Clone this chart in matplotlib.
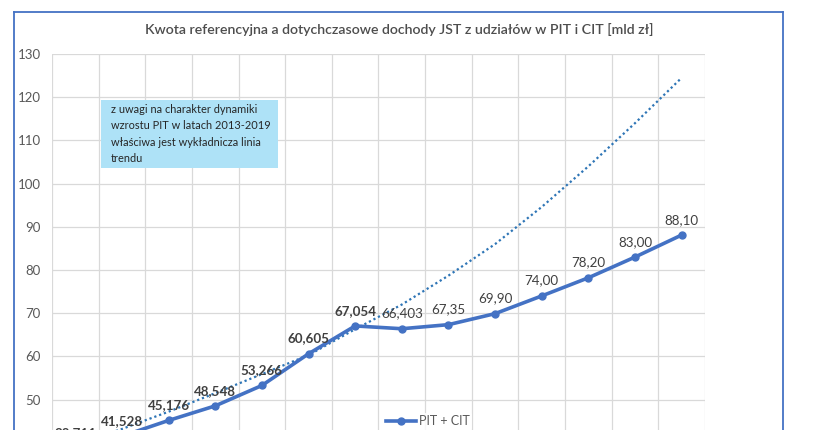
import numpy as np
import matplotlib
matplotlib.use("Agg")
import matplotlib.pyplot as plt
from matplotlib.lines import Line2D
from matplotlib.patches import Rectangle

plt.rcParams['font.family'] = ['Lato', 'DejaVu Sans']

# data
years = list(range(2013, 2027))
pit_cit = [38.711, 41.528, 45.176, 48.548, 53.266, 60.605, 67.054,
           66.403, 67.35, 69.90, 74.00, 78.20, 83.00, 88.10]
labels = ['38,711', '41,528', '45,176', '48,548', '53,266', '60,605', '67,054',
          '66,403', '67,35', '69,90', '74,00', '78,20', '83,00', '88,10']
trend = [39.6, 43.2, 47.2, 51.5, 55.9, 60.3, 66.3,
         72.0, 78.7, 86.0, 94.6, 104.0, 114.0, 124.5]

W, H = 816, 430
fig = plt.figure(figsize=(W / 100, H / 100), dpi=100)
ax = fig.add_axes([52 / W, 0, (705 - 52) / W, 1 - 54 / H])

x = np.arange(len(years))
ax.set_xlim(-0.5, len(years) - 0.5)
ax.set_ylim(130 - (430 - 54) / 4.32, 130)

# grid
grid_c = '#d9d9d9'
for yv in range(50, 131, 10):
    ax.axhline(yv, color=grid_c, lw=0.9, zorder=0)
for xv in np.arange(-0.5, len(years), 1.0):
    ax.axvline(xv, color=grid_c, lw=0.9, zorder=0)

for s in ax.spines.values():
    s.set_visible(False)
ax.set_xticks([])
ax.set_yticks(range(50, 131, 10))
ax.tick_params(axis='y', length=0, pad=8, labelsize=9.5, labelcolor='#595959')

ax.plot(x, trend, color='#2e75b6', lw=1.6, ls=(0, (1, 1.3)), zorder=2)
line, = ax.plot(x, pit_cit, color='#4472c4', lw=2.6, marker='o', ms=5,
                zorder=3, label='PIT + CIT')

for i, (xi, yi) in enumerate(zip(x, pit_cit)):
    ax.annotate(labels[i], (xi, yi), xytext=(0, 11), textcoords='offset points',
                ha='center', va='center', fontsize=9.6, color='#404040',
                fontweight='bold' if i < 7 else 'normal', zorder=4,
                annotation_clip=False)

# note box
fig.patches.append(Rectangle((101 / W, 1 - 168 / H), 177 / W, 68 / H,
                             transform=fig.transFigure, facecolor='#aee2f7',
                             edgecolor='none', zorder=5))
fig.text(111 / W, 1 - 104 / H,
         'z uwagi na charakter dynamiki\nwzrostu PIT w latach 2013-2019\n'
         'właściwa jest wykładnicza linia\ntrendu',
         ha='left', va='top', fontsize=7.9, color='#262626', linespacing=1.6,
         zorder=6)

fig.text(399 / W, 1 - 30 / H,
         'Kwota referencyjna a dotychczasowe dochody JST z udziałów w PIT i CIT [mld zł]',
         ha='center', va='center', fontsize=10.2, color='#4d4d4d',
         fontweight='semibold')

leg = fig.legend(handles=[line], loc='center', bbox_to_anchor=(428 / W, 1 - 421 / H),
                 frameon=True, fontsize=9, handlelength=2.4, handletextpad=0.2,
                 borderpad=0.2)
leg.get_frame().set_edgecolor('none')
leg.get_frame().set_facecolor('white')
for t in leg.get_texts():
    t.set_color('#595959')

# outer chart frame
frame_c = '#4472c4'
fig.add_artist(Line2D([14 / W, 14 / W], [0, 1 - 12 / H], color=frame_c, lw=1.3))
fig.add_artist(Line2D([783 / W, 783 / W], [0, 1 - 12 / H], color=frame_c, lw=1.3))
fig.add_artist(Line2D([14 / W, 783 / W], [1 - 12 / H, 1 - 12 / H], color=frame_c, lw=1.3))

fig.savefig('out.png', dpi=100)
